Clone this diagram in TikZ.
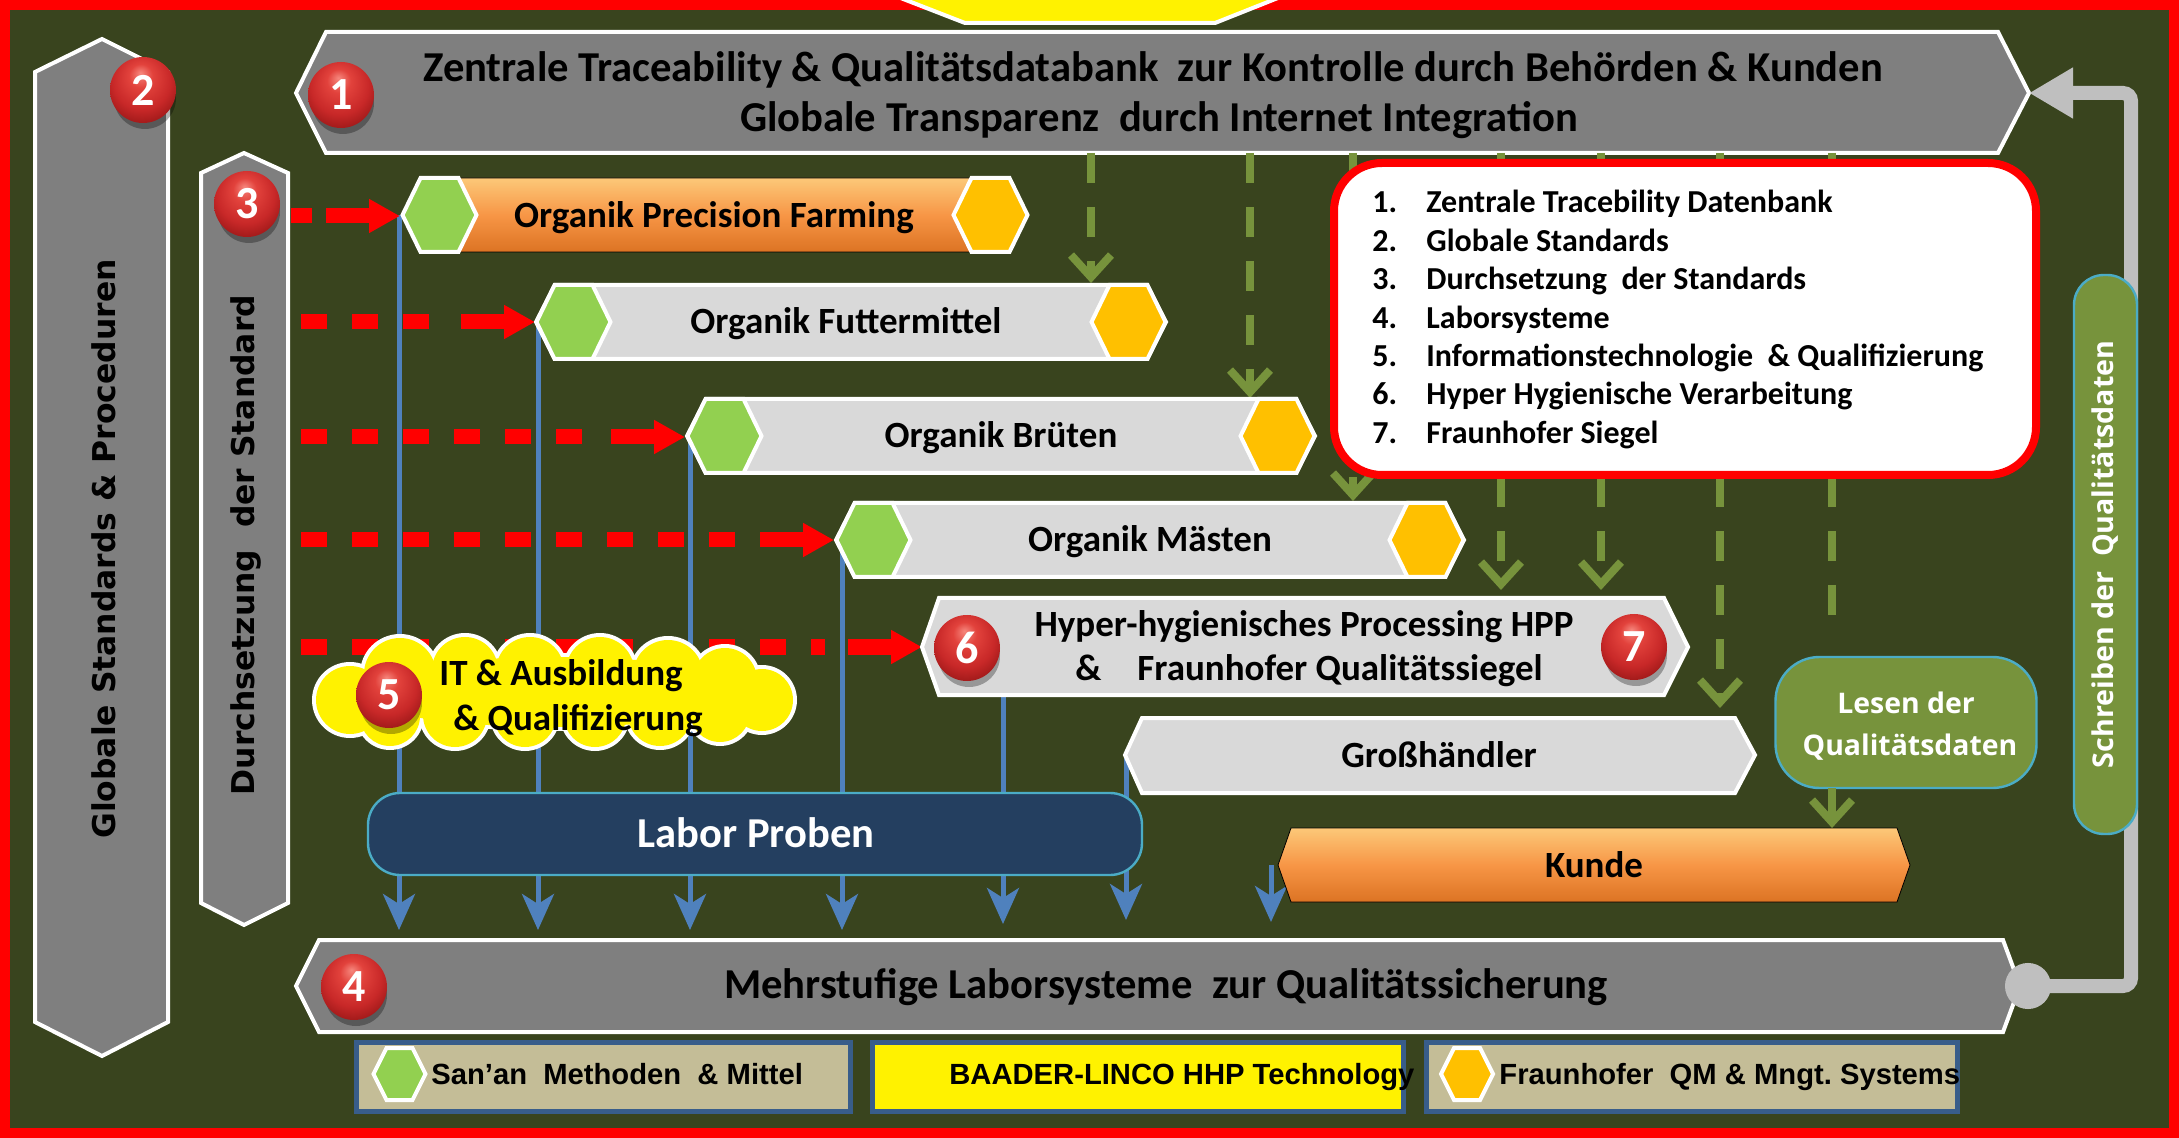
\documentclass[tikz,border=0pt]{standalone}
\usepackage{fontspec}
\setmainfont{Carlito}
\newfontfamily\vfont{DejaVu Sans}
\newfontfamily\ofont{Open Sans}
\newfontfamily\afont{Liberation Sans}
\usetikzlibrary{arrows.meta}
\definecolor{bgc}{RGB}{57,68,30}
\definecolor{barg}{RGB}{127,127,127}
\definecolor{lgray}{RGB}{217,217,217}
\definecolor{hexg}{RGB}{146,208,80}
\definecolor{hexo}{RGB}{255,192,0}
\definecolor{oran}{RGB}{247,150,70}
\definecolor{orhi}{RGB}{252,200,120}
\definecolor{orlo}{RGB}{220,115,35}
\definecolor{navyc}{RGB}{36,63,96}
\definecolor{lblue}{RGB}{75,172,198}
\definecolor{olivec}{RGB}{119,147,60}
\definecolor{bline}{RGB}{79,129,189}
\definecolor{tanc}{RGB}{196,189,151}
\definecolor{legb}{RGB}{56,93,138}
\definecolor{rgray}{RGB}{191,191,191}
\pgfdeclareradialshading{redball}{\pgfqpoint{-2bp}{13bp}}{color(0bp)=(rgb,255:red,246;green,135;blue,125); color(9bp)=(rgb,255:red,226;green,66;blue,60); color(22bp)=(rgb,255:red,200;green,40;blue,40); color(33bp)=(rgb,255:red,150;green,22;blue,22); color(50bp)=(rgb,255:red,110;green,15;blue,15)}
\tikzset{
  wb/.style={draw=white, line width=2pt, line join=miter},
  orshade/.style={top color=orhi, bottom color=orlo, middle color=oran},
  mtext/.style={font=\fontsize{18.5}{22}\selectfont\bfseries, text=black, inner sep=0pt, anchor=base},
  btext/.style={font=\fontsize{21.3}{24}\selectfont\bfseries, text=black, inner sep=0pt, anchor=base},
  vtext/.style={font=\vfont\bfseries\fontsize{15.7}{18}\selectfont, text=black, rotate=90, inner sep=0pt},
  badge/.style={circle, minimum size=33pt, inner sep=0pt, shading=redball, text=white, font=\fontsize{23}{23}\selectfont\bfseries},
  bshadow/.style={fill=black, opacity=0.3},
  ltext/.style={font=\fontsize{16}{18}\selectfont\bfseries, text=black, anchor=base west, inner sep=0pt},
  legtext/.style={font=\afont\bfseries\fontsize{14.6}{16}\selectfont, text=black, anchor=base west, inner sep=0pt},
  bluearrow/.style={draw=bline, line width=2.5pt, -{Stealth[length=18pt, width=16pt, inset=5pt]}},
  greendash/.style={draw=olivec, line width=4pt, dash pattern=on 15pt off 12pt, -{Straight Barb[length=11pt, width=20pt]}},
  greenplain/.style={draw=olivec, line width=4pt, dash pattern=on 15pt off 12pt},
  reddash/.style={draw=red, line width=7.5pt, dash pattern=on 13pt off 12.5pt},
  redhead/.style={draw=red, line width=7.5pt, -{Triangle[length=15.5pt, width=16pt]}},
  retline/.style={draw=rgray, line width=7pt, rounded corners=4pt, {Circle[length=23pt]}-{Triangle[length=22pt, width=24pt]}},
  legbox/.style={draw=legb, line width=2.5pt}
}
\newcommand{\myhex}[3]{\filldraw[wb, fill=#3, shift={(#1,#2)}] (-37,0) -- (-19,-37) -- (19,-37) -- (37,0) -- (19,37) -- (-19,37) -- cycle;}
\newcommand{\myhexsmall}[3]{\filldraw[wb, fill=#3, shift={(#1,#2)}] (-26,0) -- (-13,-26) -- (13,-26) -- (26,0) -- (13,26) -- (-13,26) -- cycle;}
\begin{document}
\begin{tikzpicture}[x=0.5pt, y=-0.5pt]
\useasboundingbox (0,0) rectangle (2179,1138);
\fill[bgc] (0,0) rectangle (2179,1138);
\draw[red, line width=5pt] (5,5) rectangle (2174,1133);
\filldraw[fill=yellow, draw=white, line width=2pt] (880,-10) -- (965,23) -- (1215,23) -- (1298,-10);

% big bars
\filldraw[wb, fill=barg] (35,72) -- (102,39) -- (168,72) -- (168,1022) -- (102,1056) -- (35,1022) -- cycle;
\node[vtext] (t2) at (104,549) {Globale Standards \& Proceduren};
\filldraw[wb, fill=barg] (201,173) -- (244,153) -- (288,173) -- (288,903) -- (244,925) -- (201,903) -- cycle;
\node[vtext] (t3) at (246,545) {Durchsetzung~ der Standard};
\filldraw[wb, fill=barg] (296,93) -- (326,32) -- (1998,32) -- (2029,93) -- (1998,153) -- (326,153) -- cycle;
\node[btext] (top1) at (1153,82) {Zentrale Traceability \& Qualitätsdatabank~ zur Kontrolle durch Behörden \& Kunden};
\node[btext] (top2) at (1159,132) {Globale Transparenz~ durch Internet Integration};
\filldraw[wb, fill=barg] (296,986) -- (319,940) -- (2003,940) -- (2020,986) -- (2003,1032) -- (319,1032) -- cycle;
\node[btext] (bot) at (1166,998) {Mehrstufige Laborsysteme~ zur Qualitätssicherung};

% return connector
\coordinate (retS) at (2005,986);
\coordinate (retE) at (2029,93);
\draw[retline] (retS) -- (2131,986) -- (2131,93) -- (retE);

% blue lines
\foreach \x/\ys/\ye [count=\i] in {399/215/930, 538/322/930, 690/436/930, 842/540/930, 1003/660/924, 1126/755/920, 1271/865/922}{
  \coordinate (bls\i) at (\x,\ys);
  \coordinate (ble\i) at (\x,\ye);
  \draw[bluearrow] (bls\i) -- (ble\i);
}

% green dashed arrows
\foreach \x/\ye [count=\i] in {1091/283, 1250/398, 1353/501, 1501/590, 1601/590, 1720/708}{
  \coordinate (gs\i) at (\x,153);
  \coordinate (ge\i) at (\x,\ye);
  \draw[greendash] (gs\i) -- (ge\i);
}
\coordinate (gs7) at (1832,153);
\coordinate (ge7) at (1832,635);
\draw[greenplain] (gs7) -- (ge7);

% red dashed arrows
\foreach \xs/\xd/\xt/\y [count=\i] in {291/312/400/216, 301/437/535/322, 301/590/685/437, 301/737/834/540, 301/825/922/647}{
  \coordinate (rs\i) at (\xs,\y);
  \coordinate (rd\i) at (\xd,\y);
  \coordinate (ra\i) at (\xt-74,\y);
  \coordinate (rt\i) at (\xt,\y);
  \draw[reddash] (rs\i) -- (rd\i);
  \draw[redhead] (ra\i) -- (rt\i);
}

% stages
\filldraw[orshade] (402,215) -- (421,178) -- (1009,178) -- (1028,215) -- (1009,252) -- (421,252) -- cycle;
\myhex{439.5}{215}{hexg}
\myhex{990.5}{215}{hexo}
\node[mtext] (s1) at (714,228) {Organik Precision Farming};

\filldraw[wb, fill=lgray] (536,322) -- (555,285) -- (1147,285) -- (1166,322) -- (1147,359) -- (555,359) -- cycle;
\myhex{573.5}{322}{hexg}
\myhex{1128.5}{322}{hexo}
\node[mtext] (s2) at (846,334) {Organik Futtermittel};

\filldraw[wb, fill=lgray] (687,436) -- (706,399) -- (1296,399) -- (1315,436) -- (1296,473) -- (706,473) -- cycle;
\myhex{724.5}{436}{hexg}
\myhex{1277.5}{436}{hexo}
\node[mtext] (s3) at (1001,448) {Organik Brüten};

\filldraw[wb, fill=lgray] (836,540) -- (855,503) -- (1445,503) -- (1464,540) -- (1445,577) -- (855,577) -- cycle;
\myhex{873.5}{540}{hexg}
\myhex{1426.5}{540}{hexo}
\node[mtext] (s4) at (1150,552) {Organik Mästen};

\filldraw[wb, fill=lgray] (922,647) -- (939,598) -- (1664,598) -- (1688,647) -- (1664,695) -- (939,695) -- cycle;
\node[mtext] (hpp1) at (1304,637) {Hyper-hygienisches Processing HPP};
\node[mtext, anchor=base west] (hpp2) at (1075,680) {\&};
\node[mtext, anchor=base west] (hpp3) at (1137,680) {Fraunhofer Qualitätssiegel};

\filldraw[wb, fill=lgray] (1125,755) -- (1142,718) -- (1735,718) -- (1755,755) -- (1735,793) -- (1142,793) -- cycle;
\node[mtext] (gross) at (1439,767) {Großhändler};

\filldraw[orshade] (1278,865) -- (1291,828) -- (1897,828) -- (1910,865) -- (1897,902) -- (1291,902) -- cycle;
\node[mtext] (kunde) at (1594,877) {Kunde};

% Labor Proben
\node[draw=lblue, line width=1.2pt, fill=navyc, rounded corners=16pt, minimum width=387pt, minimum height=41pt, inner sep=0pt] (labor) at (755,834) {};
\node[btext, text=white] (labort) at (756,847) {Labor Proben};

% list
\node[draw=red, line width=4pt, fill=white, rounded corners=24pt, minimum width=351pt, minimum height=156pt, inner sep=0pt] (list) at (1685,319) {};
\foreach \t [count=\i] in {Zentrale Tracebility Datenbank, Globale Standards, Durchsetzung~ der Standards, Laborsysteme, Informationstechnologie~ \& Qualifizierung, Hyper Hygienische Verarbeitung, Fraunhofer Siegel}{
  \node[ltext] (ln\i) at (1372,{174.5+38.4*\i}) {\i.};
  \node[ltext] (lt\i) at (1426,{174.5+38.4*\i}) {\t};
}

% Lesen / Schreiben
\node[draw=lblue, line width=1.2pt, fill=olivec, rounded corners=22pt, minimum width=130.5pt, minimum height=65.5pt, inner sep=0pt] (lesen) at (1906,722.5) {};
\node[font=\ofont\bfseries\fontsize{14.2}{16}\selectfont, text=white, anchor=base, inner sep=0pt] (les1) at (1906,713) {Lesen der};
\node[font=\ofont\bfseries\fontsize{14.2}{16}\selectfont, text=white, anchor=base, inner sep=0pt] (les2) at (1910,755) {Qualitätsdaten};
\coordinate (lk1) at (1832,788);
\coordinate (lk2) at (1832,828);
\draw[draw=olivec, line width=4pt, -{Straight Barb[length=11pt, width=20pt]}] (lk1) -- (lk2);

\node[draw=lblue, line width=1.2pt, fill=olivec, rounded corners=15pt, minimum width=279.5pt, minimum height=31.5pt, inner sep=0pt, rotate=90, text=white, font=\ofont\bfseries\fontsize{14.3}{16}\selectfont] (schreib) at (2105.5,554.5) {Schreiben der~ Qualitätsdaten};

% cloud (union of puffs)
\coordinate (cloud) at (555,692);
\foreach \cx/\cy/\r in {400/674/36, 465/670/33, 530/671/34, 600/671/34, 668/675/35, 725/680/32, 350/700/34, 762/700/31, 390/716/30, 455/715/32, 525/716/31, 595/716/31, 660/714/32, 720/712/30}{
  \fill[white] (\cx,\cy) circle[radius=\r+4];
}
\fill[white] (cloud) ellipse[x radius=204, y radius=39];
\foreach \cx/\cy/\r in {400/674/36, 465/670/33, 530/671/34, 600/671/34, 668/675/35, 725/680/32, 350/700/34, 762/700/31, 390/716/30, 455/715/32, 525/716/31, 595/716/31, 660/714/32, 720/712/30}{
  \fill[yellow] (\cx,\cy) circle[radius=\r];
}
\fill[yellow] (cloud) ellipse[x radius=200, y radius=35];
\node[mtext] (it1) at (561,685) {IT \& Ausbildung};
\node[mtext] (it2) at (578,730) {\& Qualifizierung};

% legend
\filldraw[legbox, fill=tanc] (356,1042) rectangle (850,1111);
\filldraw[legbox, fill=yellow] (872,1042) rectangle (1403,1111);
\filldraw[legbox, fill=tanc] (1426,1042) rectangle (1957,1111);
\myhexsmall{399.5}{1074}{hexg}
\myhexsmall{1467}{1074}{hexo}
\node[legtext] (lg1) at (431,1084) {San’an~ Methoden~ \& Mittel};
\node[legtext] (lg2) at (949,1084) {BAADER-LINCO HHP Technology};
\node[legtext] (lg3) at (1499,1084) {Fraunhofer~ QM \& Mngt.\ Systems};

% badges
\foreach \n/\bx/\by in {1/341/95, 2/143/90, 3/247/204, 4/354/987, 5/389/695, 6/967/648, 7/1634/647}{
  \fill[bshadow] (\bx+2,\by+8) circle[radius=31];
  \node[badge] (bd\n) at (\bx,\by) {\n};
}
\end{tikzpicture}
\end{document}
